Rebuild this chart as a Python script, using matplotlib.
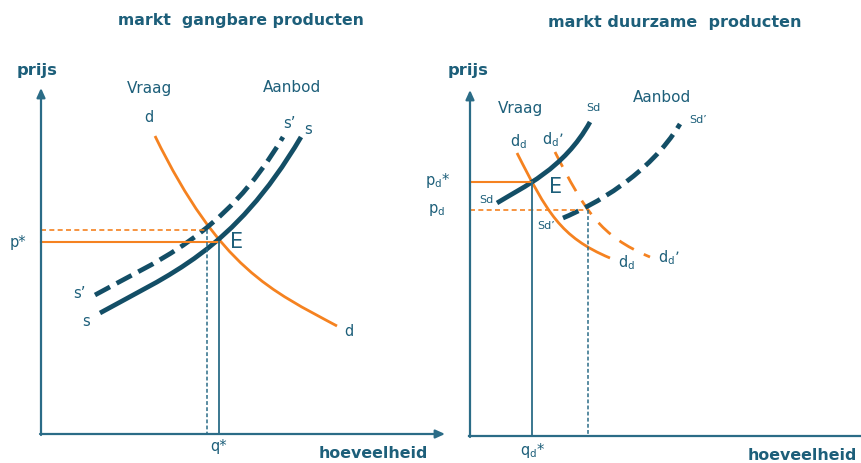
import matplotlib
matplotlib.use("Agg")
import matplotlib.pyplot as plt
from matplotlib.path import Path
from matplotlib.patches import PathPatch

# kleuren
TEAL = "#134e66"
AXIS = "#2b6c87"
TEXT = "#1d5f7a"
ORANGE = "#f58220"

# diagram coordinaten (pixels van de figuur, y naar beneden)
# linker grafiek: markt gangbare producten
left_origin = (41, 434)
left_x_end = 445
left_y_top = 88
left_d = [(155, 136), (220, 269), (272, 291), (337, 326)]
left_s = [(100, 313), (168, 275), (233, 252), (301, 137)]
left_s2 = [(95, 295), (154, 262), (224, 237), (283, 137)]
left_p = 242       # p*
left_q = 219       # q*
left_p2 = 230      # na verschuiving aanbod
left_q2 = 207

# rechter grafiek: markt duurzame producten
right_origin = (470, 436)
right_x_end = 861
right_y_top = 90
right_sd = [(497, 203), (523, 187), (564, 169), (590, 122)]
right_sd2 = [(563, 218), (594, 205), (649, 175), (680, 124)]
right_dd = [(517, 153), (547, 212), (560, 237), (610, 258)]
right_dd2 = [(555, 152), (585, 211), (600, 236), (650, 257)]
right_p = 182      # pd*
right_q = 532      # qd*
right_p2 = 210     # pd
right_q2 = 588


def bezier(ax, pts, **kw):
    path = Path(pts, [Path.MOVETO, Path.CURVE4, Path.CURVE4, Path.CURVE4])
    ax.add_patch(PathPatch(path, fill=False, **kw))


def assen(ax, origin, x_end, y_top, x_arrow=True):
    ox, oy = origin
    ax.annotate("", xy=(ox, y_top), xytext=(ox, oy + 1),
                arrowprops=dict(arrowstyle="-|>,head_length=0.55,head_width=0.25",
                                color=AXIS, lw=1.6, shrinkA=0, shrinkB=0))
    if x_arrow:
        ax.annotate("", xy=(x_end, oy), xytext=(ox - 1, oy),
                    arrowprops=dict(arrowstyle="-|>,head_length=0.55,head_width=0.25",
                                    color=AXIS, lw=1.6, shrinkA=0, shrinkB=0))
    else:
        ax.plot([ox - 1, x_end], [oy, oy], color=AXIS, lw=1.6)


fig = plt.figure(figsize=(8.61, 4.63), dpi=100)
ax = fig.add_axes([0, 0, 1, 1])
ax.set_xlim(0, 861)
ax.set_ylim(463, 0)
ax.axis("off")

# ---- links ----
assen(ax, left_origin, left_x_end, left_y_top)
ax.plot([left_origin[0], left_q], [left_p, left_p], color=ORANGE, lw=1.5)
ax.plot([left_origin[0], left_q2], [left_p2, left_p2], color=ORANGE, lw=1.2, ls=(0, (3, 2)))
ax.plot([left_q, left_q], [left_p, left_origin[1]], color=AXIS, lw=1.3)
ax.plot([left_q2, left_q2], [left_p2, left_origin[1]], color=AXIS, lw=1.1, ls=(0, (2.5, 1.5)))
bezier(ax, left_d, color=ORANGE, lw=2.0)
bezier(ax, left_s2, color=TEAL, lw=3.4, ls=(0, (3.6, 1.6)))
bezier(ax, left_s, color=TEAL, lw=3.4)

# ---- rechts ----
assen(ax, right_origin, right_x_end, right_y_top, x_arrow=False)
ax.plot([right_origin[0], right_q], [right_p, right_p], color=ORANGE, lw=1.5)
ax.plot([right_origin[0], right_q2], [right_p2, right_p2], color=ORANGE, lw=1.2, ls=(0, (3, 2)))
ax.plot([right_q, right_q], [right_p, right_origin[1]], color=AXIS, lw=1.3)
ax.plot([right_q2, right_q2], [right_p2, right_origin[1]], color=AXIS, lw=1.1, ls=(0, (2.5, 1.5)))
bezier(ax, right_dd, color=ORANGE, lw=2.0)
bezier(ax, right_dd2, color=ORANGE, lw=2.0, ls=(0, (6, 4)))
bezier(ax, right_sd2, color=TEAL, lw=3.4, ls=(0, (3.6, 1.6)))
bezier(ax, right_sd, color=TEAL, lw=3.4)

# ---- teksten ----
tkw = dict(color=TEXT, va="center")
ax.text(241, 20, "markt  gangbare producten", fontsize=11.3, fontweight="bold", ha="center", **tkw)
ax.text(675, 23, "markt duurzame  producten", fontsize=11.5, fontweight="bold", ha="center", **tkw)
for x in (17, 448):
    ax.text(x, 70, "prijs", fontsize=11.8, fontweight="bold", ha="left", **tkw)
ax.text(428, 454, "hoeveelheid", fontsize=11.4, fontweight="bold", ha="right", **tkw)
ax.text(857, 455, "hoeveelheid", fontsize=11.4, fontweight="bold", ha="right", **tkw)

ax.text(127, 88, "Vraag", fontsize=11, ha="left", **tkw)
ax.text(263, 88, "Aanbod", fontsize=11, ha="left", **tkw)
ax.text(498, 109, "Vraag", fontsize=11, ha="left", **tkw)
ax.text(633, 97, "Aanbod", fontsize=11, ha="left", **tkw)

ax.text(149, 118, "d", fontsize=10.5, ha="center", **tkw)
ax.text(349, 332, "d", fontsize=10.5, ha="center", **tkw)
ax.text(289, 124, "s’", fontsize=10.5, ha="center", **tkw)
ax.text(308, 130, "s", fontsize=10.5, ha="center", **tkw)
ax.text(79, 293, "s’", fontsize=10.5, ha="center", **tkw)
ax.text(86, 322, "s", fontsize=10.5, ha="center", **tkw)
ax.text(237, 242, "E", fontsize=15, ha="center", **tkw)
ax.text(18, 242, "p*", fontsize=10.5, ha="center", **tkw)
ax.text(219, 447, "q*", fontsize=10.5, ha="center", **tkw)

ax.text(593, 108, "Sd", fontsize=8, ha="center", **tkw)
ax.text(698, 120, "Sd’", fontsize=8, ha="center", **tkw)
ax.text(486, 200, "Sd", fontsize=8, ha="center", **tkw)
ax.text(546, 226, "Sd’", fontsize=8, ha="center", **tkw)
ax.text(519, 142, r"d$_{\rm d}$", fontsize=10.5, ha="center", **tkw)
ax.text(553, 140, r"d$_{\rm d}$’", fontsize=10.5, ha="center", **tkw)
ax.text(627, 263, r"d$_{\rm d}$", fontsize=10.5, ha="center", **tkw)
ax.text(669, 258, r"d$_{\rm d}$’", fontsize=10.5, ha="center", **tkw)
ax.text(556, 187, "E", fontsize=15, ha="center", **tkw)
ax.text(438, 181, r"p$_{\rm d}$*", fontsize=10.5, ha="center", **tkw)
ax.text(437, 210, r"p$_{\rm d}$", fontsize=10.5, ha="center", **tkw)
ax.text(533, 451, r"q$_{\rm d}$*", fontsize=10.5, ha="center", **tkw)

fig.savefig("out.png", dpi=100)
